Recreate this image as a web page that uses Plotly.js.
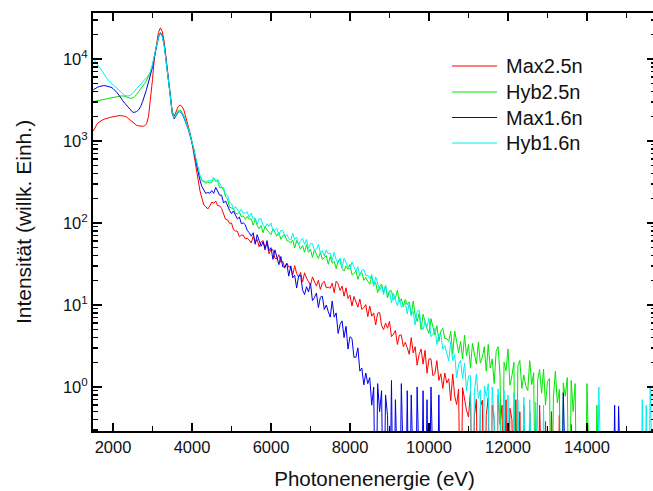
<!DOCTYPE html>
<html>
<head>
<meta charset="utf-8">
<script src="https://cdn.plot.ly/plotly-3.0.1.min.js"></script>
<style>
html,body{margin:0;padding:0;overflow:hidden;background:#fff;}
#chart{width:658px;height:491px;}
</style>
</head>
<body>
<div id="chart"></div>
<script>
// Photon energy grid (eV)
const energy = [
1500,1550,1600,1650,1700,1750,1800,1850,1900,1950,2000,2050,2100,2150,2200,2250,2300,2350,2400,2450,
2500,2550,2600,2650,2700,2750,2800,2850,2900,2950,3000,3050,3100,3150,3200,3250,3300,3350,3400,3450,
3500,3550,3600,3650,3700,3750,3800,3850,3900,3950,4000,4050,4100,4150,4200,4250,4300,4350,4400,4450,
4500,4550,4600,4650,4700,4750,4800,4850,4900,4950,5000,5050,5100,5150,5200,5250,5300,5350,5400,5450,
5500,5550,5600,5650,5700,5750,5800,5850,5900,5950,6000,6050,6100,6150,6200,6250,6300,6350,6400,6450,
6500,6550,6600,6650,6700,6750,6800,6850,6900,6950,7000,7050,7100,7150,7200,7250,7300,7350,7400,7450,
7500,7550,7600,7650,7700,7750,7800,7850,7900,7950,8000,8050,8100,8150,8200,8250,8300,8350,8400,8450,
8500,8550,8600,8650,8700,8750,8800,8850,8900,8950,9000,9050,9100,9150,9200,9250,9300,9350,9400,9450,
9500,9550,9600,9650,9700,9750,9800,9850,9900,9950,10000,10050,10100,10150,10200,10250,10300,10350,10400,10450,
10500,10550,10600,10650,10700,10750,10800,10850,10900,10950,11000,11050,11100,11150,11200,11250,11300,11350,11400,11450,
11500,11550,11600,11650,11700,11750,11800,11850,11900,11950,12000,12050,12100,12150,12200,12250,12300,12350,12400,12450,
12500,12550,12600,12650,12700,12750,12800,12850,12900,12950,13000,13050,13100,13150,13200,13250,13300,13350,13400,13450,
13500,13550,13600,13650,13700,13750,13800,13850,13900,13950,14000,14050,14100,14150,14200,14250,14300,14350,14400,14450,
14500,14550,14600,14650,14700,14750,14800,14850,14900,14950,15000,15050,15100,15150,15200,15250,15300,15350,15400,15450,
15500,15550,15600,15650,15700
];

// Intensities (arb. units); 0.01 marks empty channels (below the axis)
const max25 = [
1320,1480,1620,1700,1780,1820,1860,1900,1930,1950,1970,2000,2020,2040,2040,2040,2000,1950,1860,1780,
1700,1620,1550,1530,1510,1510,1530,1620,2000,3200,5600,10500,15800,21000,24000,21400,15800,10000,6300,3700,
2300,2000,2300,2630,2750,2630,2340,1950,1580,1260,955,690,480,330,250,202,166,158,148,161,
180,174,185,162,162,150,125,111,109,99,100,83,80,79,68,71,71,64,65,62,
57,69,58,63,51,59,61,50,56,42,48,47,37,36.5,41,33,34,28,32.5,29,
29.3,23.3,30.2,24.2,21.8,24.9,19.1,24.7,21.3,18.9,17.4,22,19.2,17,20,15.5,18.5,19.4,16.2,16.5,
16,18.5,14.1,19.5,18.1,15,17,12.8,16.2,12,13.2,9.7,12.7,10.6,9.4,11.8,8.8,9.3,10.1,7.2,
9.7,7.3,8.0,5.7,7.9,8.1,5.6,5.0,6.0,5.2,6.3,4.1,4.4,4.9,3.3,4.3,4.3,3.1,3.5,3.0,
2.5,4.0,2.6,3.1,1.84,2.5,2.9,1.9,2.8,1.47,2.2,2.2,1.37,1.46,2.1,1.2,1.45,0.96,1.48,1.12,
1.26,0.68,1.44,0.78,0.61,0.94,0.01,0.98,0.68,0.52,0.43,0.88,0.01,0.44,0.71,0.01,0.57,0.69,0.01,0.45,
0.75,0.01,0.6,0.4,0.01,0.8,0.35,0.6,0.01,0.7,0.01,0.55,0.4,0.01,0.7,0.01,0.5,0.01,0.6,0.01,
0.01,0.5,0.01,0.01,0.42,0.01,0.6,0.01,0.01,0.38,0.01,0.01,0.5,0.01,0.01,0.01,0.45,0.01,0.01,0.01,
0.01,0.01,0.35,0.01,0.01,0.01,0.01,0.01,0.01,0.01,0.01,0.01,0.01,0.01,0.01,0.01,0.01,0.01,0.01,0.01,
0.01,0.01,0.01,0.01,0.01,0.01,0.01,0.01,0.01,0.01,0.01,0.01,0.01,0.01,0.01,0.01,0.01,0.01,0.01,0.01,
0.01,0.01,0.01,0.01,0.01
];

const hyb25 = [
3020,3050,3090,3120,3160,3200,3240,3270,3310,3350,3390,3430,3470,3510,3550,3550,3510,3430,3350,3310,
3350,3470,3720,3980,4270,4570,5010,5500,6170,6920,8510,11200,14500,18600,20900,19000,14500,9550,6310,3630,
2240,1950,2140,2340,2400,2240,2000,1740,1480,1230,1000,794,603,457,375,328,320,305,314,307,
311,352,326,325,269,271,257,208,197,156,154,149,132,129,135,119,122,111,120,111,
112,94,112,93,85,93,76,91,82,76,72,85,77,69,77,63,70,72,61,60,
57,62,49.5,61,54.5,48,53,44,54.5,44,48,38,47,40.7,36.8,44,36,37.5,40,31.3,
39,32.3,34,27.8,34.6,35.2,27.8,25.9,29.8,27.3,31.3,23.4,24.3,26.1,20.5,24.3,24.9,20,21.7,19.5,
17.9,22.4,17.5,18.9,14.1,16.7,18,14.2,17.2,12.2,14.9,14.9,11.6,12.2,15.1,10.9,11.9,9.5,11.7,10.1,
10.9,7.4,11.2,7.5,6.3,7.9,5.0,7.7,6.1,5.1,4.5,6.8,5.4,4.3,5.6,3.6,4.8,5.2,3.9,3.9,
3.6,4.8,2.5,4.8,3.6,2.6,3.6,2.2,4.3,2.4,3.3,1.7,3.4,2.4,1.9,3.5,1.95,2.3,3.1,1.55,
3.3,1.7,2.2,1.1,2.7,3.1,1.35,0.01,2.0,1.57,2.9,1.05,1.37,2.0,0.01,1.8,2.1,0.96,1.4,1.03,
0.9,2.1,1.07,1.49,0.01,1.19,1.63,0.84,1.65,0.6,1.17,1.27,0.01,0.76,1.55,0.64,0.93,0.01,1.12,0.77,
1.3,0.01,1.2,0.5,1.1,0.01,0.01,0.01,0.01,0.01,1.1,0.01,0.01,0.01,0.01,0.6,0.01,0.01,0.01,0.01,
0.01,0.01,0.01,0.01,0.01,0.01,0.01,0.01,0.01,0.01,0.01,0.01,0.01,0.01,0.01,0.01,0.01,0.01,0.01,0.01,
0.01,0.01,0.01,0.01,0.01
];

const max16 = [
4200,4400,4500,4600,4700,4730,4730,4680,4620,4520,4370,4170,3890,3630,3310,3090,2880,2690,2510,2340,
2240,2240,2290,2400,2630,3020,3550,4270,5250,6310,7940,10700,14100,18200,20900,19000,14500,9550,6310,3550,
2140,1860,2040,2240,2290,2140,1900,1660,1410,1170,955,760,560,420,335,278,256,229,236,230,
248,230,272,241,218,218,175,186,159,143,130,140,125,112,118,98,100,95,81,76,
69,76,55,72,61,52,59,47,61,46,50,36,47,37,31,39,29,29.5,32,22.5,
30,21.5,23,16.1,22.7,23.1,15.3,13.4,16.7,14.4,18.2,11.3,12.3,14,9.3,12.4,12.8,8.8,10,8.3,
7.1,11.2,7.1,8.0,4.5,5.8,6.4,4.0,5.5,2.9,4.1,3.9,2.3,2.3,3.0,1.56,1.7,1.06,1.48,1.1,
1.3,0.6,1.0,0.01,1.1,0.5,0.9,0.01,0.8,0.45,0.01,1.2,0.01,0.7,0.01,0.01,1.1,0.01,0.01,0.9,
0.01,0.8,0.01,0.01,1.0,0.01,0.01,0.9,0.01,0.7,0.01,1.0,0.01,0.01,0.01,0.8,0.01,0.01,0.01,0.01,
0.01,0.01,0.01,0.01,0.01,0.01,0.01,0.01,0.01,0.01,0.01,0.01,0.01,0.01,0.01,0.01,0.01,0.01,0.01,0.01,
0.01,0.01,0.01,0.01,0.01,0.01,0.01,0.01,0.01,0.01,0.01,0.01,0.01,0.01,0.01,0.01,0.01,0.01,0.01,0.01,
0.01,0.01,0.01,0.01,0.01,0.01,0.01,0.01,0.01,0.01,0.01,0.01,0.01,0.01,0.01,0.01,0.01,0.01,0.85,0.01,
0.01,0.01,0.01,0.01,0.01,0.01,0.01,0.01,0.01,0.01,0.01,0.01,0.01,0.01,0.01,0.01,0.01,0.01,0.01,0.01,
0.01,0.01,0.01,0.01,0.6,0.01,0.58,0.01,0.01,0.01,0.01,0.01,0.01,0.01,0.01,0.01,0.01,0.01,0.01,0.01,
0.01,0.01,0.01,0.01,0.01
];

const hyb16 = [
10200,9330,8510,7940,7410,6760,6170,5750,5370,5130,4900,4620,4370,4170,3980,3760,3590,3550,3550,3630,
3800,4070,4370,4680,4950,5250,5560,5890,6310,7080,8510,11200,14500,18200,20400,18600,14100,9330,6170,3550,
2190,1910,2090,2260,2320,2190,1950,1700,1450,1200,980,776,603,468,384,335,329,316,330,326,
334,357,319,342,306,272,270,223,219,178,172,147,159,145,135,147,131,133,136,117,
132,112,115,96,113,113,94,88,98,91,100,80,82,86,71,81,81,68,72,65,
62,75,63,67,54,61,65,55,63,49,56,56,46,47.5,55,43.4,46,39.4,47,42,
43,34.8,44,35.7,32.5,37.3,28.9,36.9,32.3,29.2,27.2,33.5,29.3,25.6,29.3,22.7,26.4,27.2,22.8,23,
21,23.5,16.9,22,18.5,15.1,17.1,13.4,17.4,13.2,14.8,10.6,13.9,11.4,9.8,12.4,9.4,9.9,10.8,7.8,
10.7,7.5,8.4,5.7,8.4,8.7,5.7,5.0,6.3,5.4,6.9,4.1,4.4,5.2,3.3,4.4,4.4,2.9,3.2,2.6,
2.07,3.6,2.1,2.5,1.29,1.88,2.1,1.27,1.95,0.9,1.36,1.38,0.01,0.88,1.44,0.73,0.92,0.01,1.03,0.77,
1.1,0.01,1.0,0.4,0.01,0.95,0.35,0.01,0.9,0.01,0.8,0.01,0.01,0.85,0.01,0.7,0.01,0.01,0.75,0.01,
0.01,0.7,0.01,0.01,0.65,0.01,0.01,0.01,0.6,0.01,0.01,0.01,0.01,0.01,0.01,0.01,0.01,0.01,0.01,0.01,
0.01,0.01,0.01,0.01,0.01,0.01,0.01,0.01,0.01,0.01,0.01,0.01,0.01,0.01,0.01,0.01,1.0,0.01,0.01,0.01,
0.01,0.01,0.01,0.01,0.01,0.01,0.01,0.01,0.01,0.01,0.01,0.01,0.01,0.01,0.01,0.01,0.01,0.01,0.7,0.01,
0.6,0.01,1.0,0.01,0.01
];

const seriesNames = ['Max2.5n','Hyb2.5n','Max1.6n','Hyb1.6n'];
const seriesColors = ['#ff0000','#00e600','#0000f0','#00f0f0'];
const seriesValues = [max25, hyb25, max16, hyb16];

const xTickVals = [2000,4000,6000,8000,10000,12000,14000];
const xTickText = ['2000','4000','6000','8000','10000','12000','14000'];
const xMinorVals = [3000,5000,7000,9000,11000,13000,15000];
const yTickVals = [1,10,100,1000,10000];
const yTickText = ['10<sup>0</sup>','10<sup>1</sup>','10<sup>2</sup>','10<sup>3</sup>','10<sup>4</sup>'];
const yMinorVals = [0.3,0.4,0.5,0.6,0.7,0.8,0.9,2,3,4,5,6,7,8,9,20,30,40,50,60,70,80,90,
  200,300,400,500,600,700,800,900,2000,3000,4000,5000,6000,7000,8000,9000,20000,30000];

const traces = seriesNames.map((n,i)=>({
  type:'scatter', mode:'lines', name:n, x:energy, y:seriesValues[i],
  line:{color:seriesColors[i], width:1}, showlegend:false
}));

const FONT = 'Arial, "Liberation Sans", sans-serif';

// Hand-placed legend (paper coordinates of the plot area)
const legX0 = 0.6377, legX1 = 0.7176, legTextX = 0.7300;
const legRowsY = [0.8732, 0.8110, 0.7500, 0.6890];
const shapes = seriesNames.map((n,i)=>({
  type:'line', xref:'paper', yref:'paper', x0:legX0, x1:legX1, y0:legRowsY[i], y1:legRowsY[i],
  line:{color:seriesColors[i], width:1.2}
}));
const annotations = seriesNames.map((n,i)=>({
  xref:'paper', yref:'paper', x:legTextX, y:legRowsY[i], xanchor:'left', yanchor:'middle',
  text:n, showarrow:false, font:{size:20, family:FONT, color:'#111'}
}));

const layout = {
  width:658, height:491,
  margin:{l:93, r:2, t:13, b:60},
  paper_bgcolor:'#ffffff', plot_bgcolor:'#ffffff',
  font:{family:FONT, color:'#000'},
  showlegend:false,
  shapes:shapes,
  annotations:annotations,
  xaxis:{
    range:[1494,15747], tickmode:'array', tickvals:xTickVals, ticktext:xTickText,
    ticks:'inside', ticklen:8, tickwidth:1.5, tickcolor:'#000',
    showline:true, linewidth:2, linecolor:'#000', mirror:'ticks',
    showgrid:false, zeroline:false, tickfont:{size:16.5, family:FONT, color:'#111'},
    minor:{tickmode:'array', tickvals:xMinorVals, ticks:'inside', ticklen:5, tickwidth:1.5, tickcolor:'#000', showgrid:false},
    title:{text:'Photonenenergie (eV)', font:{size:20.5, family:FONT, color:'#111'}, standoff:17}
  },
  yaxis:{
    type:'log', range:[-0.537,4.561], tickmode:'array', tickvals:yTickVals, ticktext:yTickText,
    ticks:'inside', ticklen:9, tickwidth:1.5, tickcolor:'#000',
    showline:true, linewidth:2, linecolor:'#000', mirror:'ticks',
    showgrid:false, zeroline:false, tickfont:{size:16.5, family:FONT, color:'#111'},
    minor:{tickmode:'array', tickvals:yMinorVals, ticks:'inside', ticklen:5, tickwidth:1.5, tickcolor:'#000', showgrid:false},
    title:{text:'Intensität (willk. Einh.)', font:{size:21, family:FONT, color:'#111'}, standoff:26}
  }
};

Plotly.newPlot('chart', traces, layout, {staticPlot:true, displayModeBar:false});
</script>
</body>
</html>
